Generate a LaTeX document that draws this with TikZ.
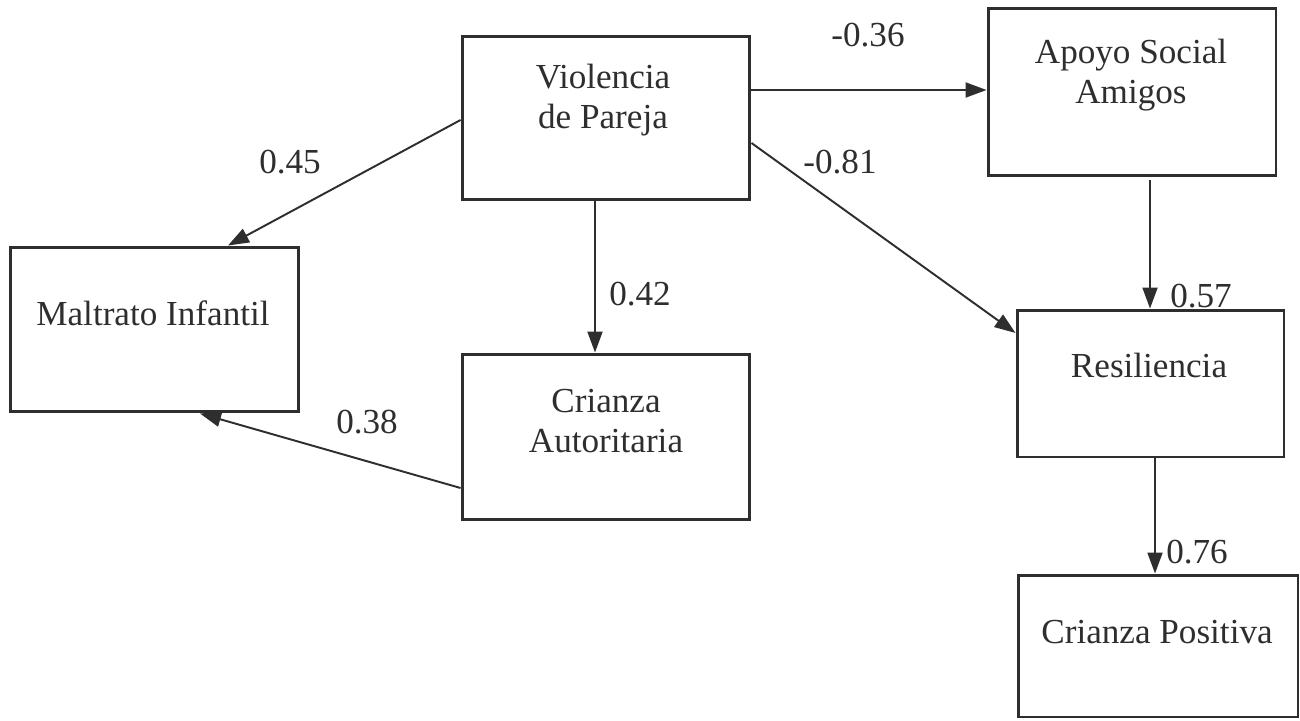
\documentclass[tikz,border=0pt]{standalone}
\usepackage{fontspec}
\setmainfont{Liberation Serif}
\usetikzlibrary{arrows.meta}
\definecolor{ink}{HTML}{2E2E2E}
\begin{document}
\begin{tikzpicture}[x=0.02cm,y=-0.02cm,
  box/.style={draw=ink,line width=1.7pt,rectangle,inner sep=0pt},
  txt/.style={text=ink,font=\fontsize{20}{23}\selectfont,align=center,inner sep=0pt},
  lbl/.style={text=ink,font=\fontsize{20}{23}\selectfont,inner sep=0pt},
  arr/.style={draw=ink,line width=1.1pt,-{Triangle[length=0.42cm,width=0.3cm]}}]
\useasboundingbox (0,0) rectangle (1300,720);
\fill[white] (0,0) rectangle (1300,720);
% boxes
\node[box,minimum width=5.76cm,minimum height=3.28cm] (vp) at (606,118) {};
\node[box,minimum width=5.76cm,minimum height=3.36cm] (as) at (1132,92) {};
\node[box,minimum width=5.78cm,minimum height=3.30cm] (mi) at (154.5,329.5) {};
\node[box,minimum width=5.76cm,minimum height=3.32cm] (ca) at (606,437) {};
\node[box,minimum width=5.34cm,minimum height=2.94cm] (re) at (1150.5,383.5) {};
\node[box,minimum width=5.60cm,minimum height=2.84cm] (cp) at (1158,646) {};
% texts
\node[txt] (vpt) at (603,100) {Violencia\\de Pareja};
\node[txt] (ast) at (1131,75) {Apoyo Social\\Amigos};
\node[txt] (mit) at (153,313) {Maltrato Infantil};
\node[txt] (cat) at (606,421) {Crianza\\Autoritaria};
\node[txt] (ret) at (1149,365) {Resiliencia};
\node[txt] (cpt) at (1157,632) {Crianza Positiva};
% connectors
\draw[arr] (vp.east |- 0,90) -- (as.west |- 0,90);
\draw[arr] (vp.west |- 0,120) -- (228,0 |- mi.north);
\draw[arr] (vp.east |- 0,143) -- (re.west |- 0,333);
\draw[arr] (595,0 |- vp.south) -- (595,0 |- ca.north);
\draw[arr] (ca.west |- 0,488) -- (200,0 |- mi.south);
\draw[arr] (1150,180) -- (1150,0 |- re.north);
\draw[arr] (1155,0 |- re.south) -- (1155,0 |- cp.north);
% labels
\node[lbl] (l1) at (868,35) {-0.36};
\node[lbl] (l2) at (290,162) {0.45};
\node[lbl] (l3) at (840,162) {-0.81};
\node[lbl] (l4) at (640,294) {0.42};
\node[lbl] (l5) at (367,422) {0.38};
\node[lbl] (l6) at (1201,296) {0.57};
\node[lbl] (l7) at (1197,552) {0.76};
\end{tikzpicture}
\end{document}
